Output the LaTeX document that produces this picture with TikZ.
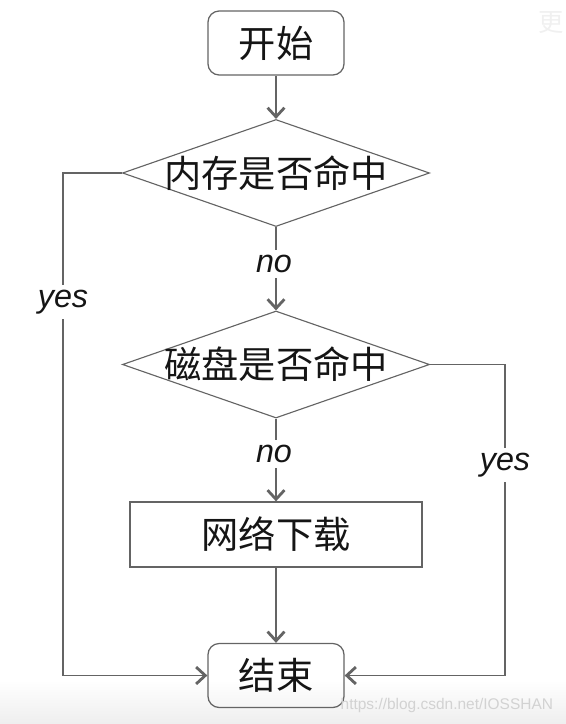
\documentclass[tikz,border=0pt]{standalone}
\usepackage{fontspec}
\setmainfont{Liberation Sans}
\newfontfamily\cjk{Noto Sans CJK SC}
\usetikzlibrary{shapes.geometric,arrows.meta}
\definecolor{lncol}{HTML}{646464}
\definecolor{txcol}{HTML}{151515}
\tikzset{
  startend/.style={draw=lncol,line width=0.9pt,rounded corners=8pt,minimum width=3.4cm,minimum height=1.6cm,inner sep=0pt},
  procbox/.style={draw=lncol,line width=0.9pt,minimum width=7.3cm,minimum height=1.625cm,inner sep=0pt},
  decide/.style={draw=lncol,line width=0.8pt,diamond,minimum width=7.675cm,minimum height=2.675cm,inner sep=0pt},
  cjktxt/.style={text=txcol,font=\cjk\fontsize{26.5}{30}\selectfont},
  yn/.style={text=txcol,font=\fontsize{23}{26}\selectfont\itshape},
  flow/.style={draw=lncol,line width=1.4pt,-{Straight Barb[length=6.5pt,width=12pt,line width=2pt]}},
  plain/.style={draw=lncol,line width=1.4pt}
}
\begin{document}
\begin{tikzpicture}[x=0.025cm,y=-0.025cm]
\pgfmathsetmacro{\kcx}{276}
\pgfmathsetmacro{\klx}{63}
\pgfmathsetmacro{\krx}{505}
\useasboundingbox (0,0) rectangle (566,724);
\shade[top color=white,bottom color=gray!13] (0,680) rectangle (566,724);
\node[startend,cjktxt] (start) at (\kcx,43) {开始};
\node[decide] (d1) at (\kcx,173) {};
\node[cjktxt] (t1) at (d1) {内存是否命中};
\node[decide] (d2) at (\kcx,364.5) {};
\node[cjktxt] (t2) at (d2) {磁盘是否命中};
\node[procbox,cjktxt] (load) at (\kcx,534.5) {网络下载};
\node[startend,cjktxt] (end) at (\kcx,675.5) {结束};
\foreach \ky/\knm in {264/no1,454/no2}{\node[yn] (\knm) at (\kcx-2,\ky) {no};}
\node[yn] (yes1) at (\klx,302) {yes};
\node[yn] (yes2) at (\krx,465) {yes};
\draw[flow] (start) -- (d1);
\draw[plain] (d1.south) -- (no1.north -| d1.south);
\draw[flow] (no1.south -| d1.south) -- (d2.north);
\draw[plain] (d2.south) -- (no2.north -| d2.south);
\draw[flow] (no2.south -| d2.south) -- (load.north);
\draw[flow] (load) -- (end);
\draw[plain] (d1.west) -| (yes1.north);
\draw[flow] (yes1.south) |- (end.west);
\draw[plain] (d2.east) -| (yes2.north);
\draw[flow] (yes2.south) |- (end.east);
%\draw (388,333) node{cursor};
\node[text=gray!12,font=\cjk\fontsize{18}{20}\selectfont] (corner) at (551,23) {更};
\node[text=gray!35,font=\fontsize{11}{13}\selectfont,anchor=east] (mark) at (558,705) {https://blog.csdn.net/IOSSHAN};
\end{tikzpicture}
\end{document}
